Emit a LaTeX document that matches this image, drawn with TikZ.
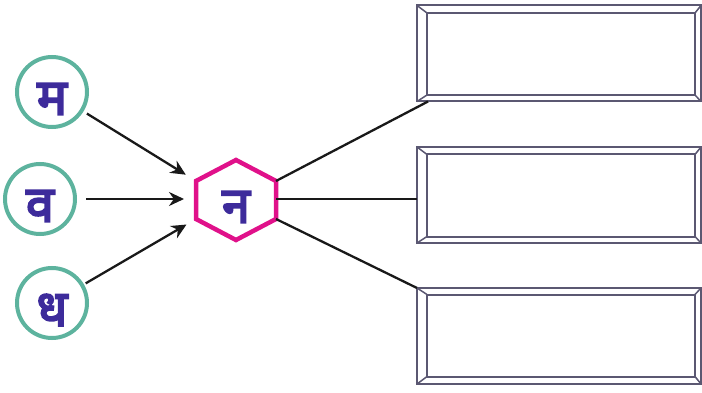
\documentclass[tikz,border=0pt]{standalone}
\usepackage{fontspec}
\usetikzlibrary{arrows.meta}
\newfontfamily\devfont[Script=Devanagari,AutoFakeBold=4]{Noto Sans}
\definecolor{letterblue}{HTML}{3D2B9B}
\definecolor{ringteal}{HTML}{5DB39E}
\definecolor{hexpink}{HTML}{E0118A}
\definecolor{framegray}{HTML}{5B5872}
\newcommand{\Dev}[1]{{\devfont\bfseries\fontsize{50}{50}\selectfont\color{letterblue}#1}}
\newcommand{\LetMa}{\Dev{म}}
\newcommand{\LetVa}{\Dev{व}}
\newcommand{\LetDha}{\Dev{ध}}
\newcommand{\LetNa}{\Dev{न}}
\tikzset{
  ring/.style={circle,draw=ringteal,line width=4pt,minimum size=70pt,inner sep=0pt},
  letter/.style={inner sep=0pt,yshift=-7pt},
  hexline/.style={draw=hexpink,line width=4.5pt,line join=miter},
  outerframe/.style={rectangle,draw=framegray,line width=2pt,minimum width=284pt,minimum height=96pt,outer sep=0pt},
  innerframe/.style={rectangle,draw=framegray,line width=2pt,minimum width=268pt,minimum height=82pt,outer sep=0pt},
  bevel/.style={draw=framegray,line width=1.5pt},
  feed/.style={-{Stealth[length=15pt,width=14pt]},line width=2.3pt,color=black!90},
  branch/.style={line width=2.3pt,color=black!90}
}
\begin{document}
\begin{tikzpicture}[x=1pt,y=-1pt]
\useasboundingbox (0,0) rectangle (702,393);
\node[ring] (ma) at (52,92) {};
\node[ring] (va) at (40,199) {};
\node[ring] (dha) at (52,303) {};
\node[letter] (ma-text) at (ma.center) {\LetMa};
\node[letter] (va-text) at (va.center) {\LetVa};
\node[letter] (dha-text) at (dha.center) {\LetDha};

\node[letter] (na) at (236,200) {\LetNa};
\coordinate (na-t) at (236,160);
\coordinate (na-ur) at (276,181);
\coordinate (na-r) at (276,199);
\coordinate (na-lr) at (276,219);
\coordinate (na-b) at (236,240);
\coordinate (na-ll) at (196,219);
\coordinate (na-l) at (196,199);
\coordinate (na-ul) at (196,181);
\draw[hexline] (na-t) -- (na-ur) -- (na-lr) -- (na-b) -- (na-ll) -- (na-ul) -- cycle;

\node[outerframe] (box-1) at (559,53.5) {};
\node[outerframe] (box-2) at (559,195) {};
\node[outerframe] (box-3) at (559,336) {};
\node[innerframe] (box-1-in) at (561,54) {};
\node[innerframe] (box-2-in) at (561,195.5) {};
\node[innerframe] (box-3-in) at (561,335.5) {};
\foreach \b in {box-1,box-2,box-3}
  \foreach \c in {north west,north east,south west,south east}
    \draw[bevel] (\b.\c) -- (\b-in.\c);

\path[feed] (ma) edge [shorten <=4pt,shorten >=12pt] (na-ul);
\path[feed] (va) edge [shorten <=9pt,shorten >=12pt] (na-l);
\path[feed] (dha) edge [shorten <=2pt,shorten >=11pt] (na-ll);

\path[branch] (na-ur) edge ([xshift=11pt]box-1.south west);
\path[branch] (na-r) edge (box-2.west |- na-r);
\path[branch] (na-lr) edge (box-3.north west);
\end{tikzpicture}
\end{document}
